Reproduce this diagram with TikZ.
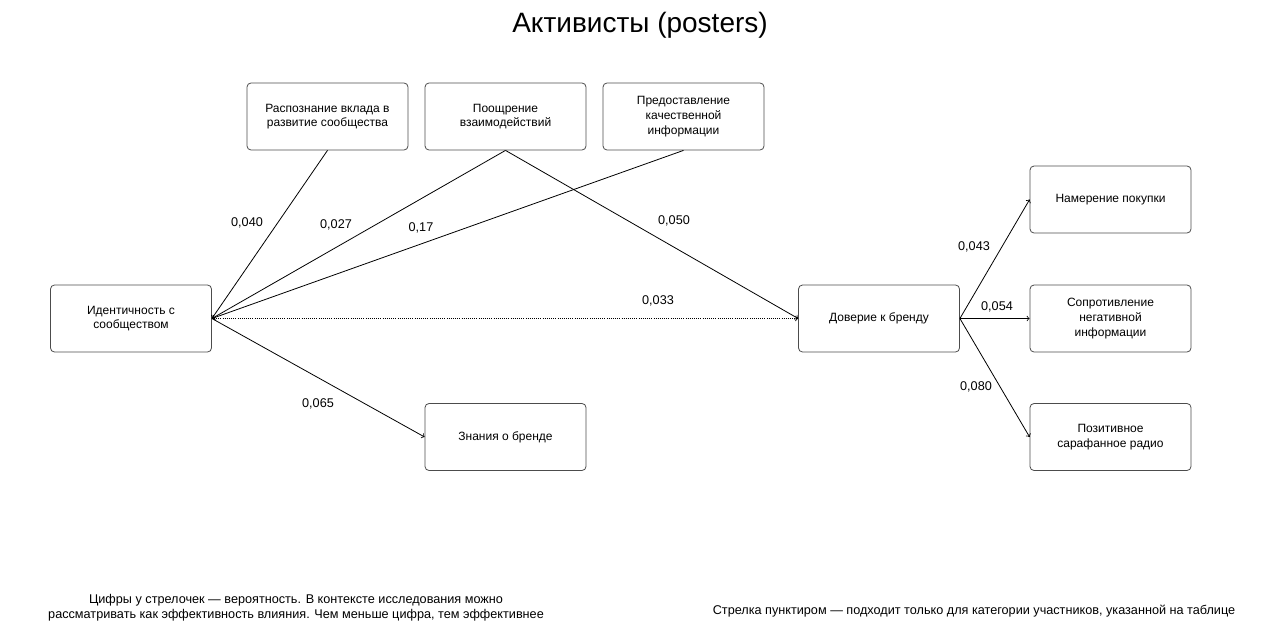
\documentclass[tikz,border=0pt]{standalone}
\usepackage{fontspec}
\setmainfont{Liberation Sans}
\usetikzlibrary{arrows}

\begin{document}
\begin{tikzpicture}[x=0.75pt,y=-0.75pt,->,>=to,semithick,
    box/.style={draw=black!70,rounded corners=3pt,minimum width=161*0.75pt,minimum height=67*0.75pt,
      align=center,font=\fontsize{9}{11}\selectfont,inner sep=2pt},
    lbl/.style={font=\fontsize{9.5}{11}\selectfont}]
    \useasboundingbox (0,0) rectangle (1280,638);
    \node at (640,25) {\fontsize{21}{25}\selectfont Активисты (posters)};

    \node[box] (I)  at (131,318.5) {Идентичность с\\сообществом};
    \node[box] (R)  at (327.5,116.5) {Распознание вклада в\\развитие сообщества};
    \node[box] (P)  at (505.5,116.5) {Поощрение\\взаимодействий};
    \node[box] (Q)  at (683.5,116.5) {Предоставление\\качественной\\информации};
    \node[box] (K)  at (505.5,437) {Знания о бренде};
    \node[box] (T)  at (879,318.5) {Доверие к бренду};
    \node[box] (N)  at (1110.5,199.5) {Намерение покупки};
    \node[box] (S)  at (1110.5,318.5) {Сопротивление\\негативной\\информации};
    \node[box] (W)  at (1110.5,437) {Позитивное\\сарафанное радио};

    \path (R.south) edge (I.east)
          (P.south) edge (I.east)
          (Q.south) edge (I.east)
          (P.south) edge (T.west)
          (I.east)  edge (K.west)
          (I.east)  edge [densely dotted] (T.west)
          (T.east)  edge (N.west)
          (T.east)  edge (S.west)
          (T.east)  edge (W.west);

    \node[lbl] at (247,223) {0,040};
    \node[lbl] at (336,225) {0,027};
    \node[lbl] at (421,228) {0,17};
    \node[lbl] at (674,221) {0,050};
    \node[lbl] at (658,301) {0,033};
    \node[lbl] at (318,404) {0,065};
    \node[lbl] at (974,247) {0,043};
    \node[lbl] at (997,307) {0,054};
    \node[lbl] at (976,387) {0,080};

    \node[lbl,align=center] at (296,608) {Цифры у стрелочек — вероятность. В контексте исследования можно\\рассматривать как эффективность влияния. Чем меньше цифра, тем эффективнее};
    \node[lbl] at (974,611) {Стрелка пунктиром — подходит только для категории участников, указанной на таблице};
\end{tikzpicture}
\end{document}
